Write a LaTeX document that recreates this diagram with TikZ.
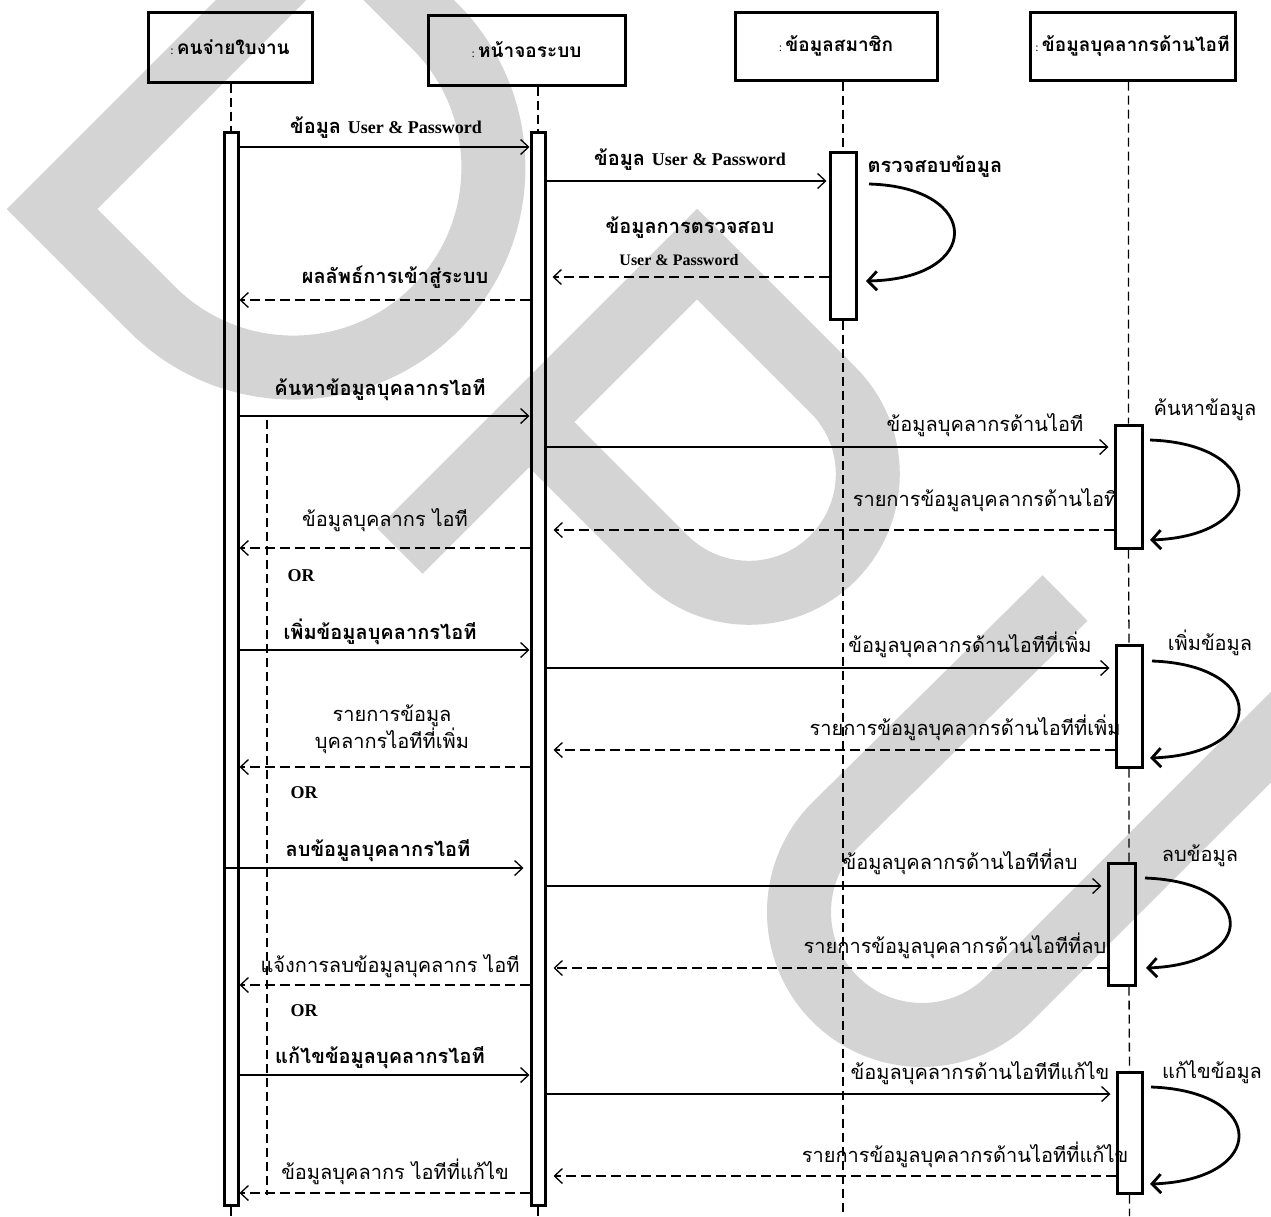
\documentclass[tikz,border=0pt]{standalone}
\usepackage{fontspec}
\setmainfont{Liberation Serif}
\newfontfamily\thai[Script=Thai]{Loma}
\usetikzlibrary{arrows.meta}
\definecolor{wmgray}{RGB}{212,212,212}

\begin{document}
\begin{tikzpicture}[x=1pt,y=-1pt,
  wmark/.style={draw=wmgray,line width=64pt,line join=miter,line cap=butt},
  objbox/.style={draw,line width=3pt,inner sep=0pt,font=\thai\bfseries\fontsize{19}{22}\selectfont},
  actbar/.style={draw,line width=3pt,inner sep=0pt},
  life/.style={line width=1.3pt,dash pattern=on 9pt off 5pt},
  msg/.style={line width=1.3pt,-{Straight Barb[length=8pt,width=15pt,line width=1.3pt]}},
  ret/.style={msg,dash pattern=on 10pt off 5pt},
  selfcall/.style={line width=2.8pt,-{Straight Barb[length=9pt,width=19pt,line width=2.8pt]}},
  lbl/.style={inner sep=0pt,font=\thai\fontsize{20}{24}\selectfont},
  lblb/.style={inner sep=0pt,font=\thai\bfseries\fontsize{20}{24}\selectfont},
  ortxt/.style={inner sep=0pt,font=\bfseries\fontsize{18}{20}\selectfont},
  latin/.style={inner sep=0pt,font=\bfseries\fontsize{16}{18}\selectfont}
]
\path[use as bounding box] (0,0) rectangle (1271,1216);

% watermark letters behind the diagram
\begin{scope}
  \clip (0,0) rectangle (1271,1216);
  % D
  \draw[wmark] (334.8,-73.8) -- (52,209) -- (152,309)
     arc[start angle=135,end angle=-45,radius=200] -- cycle;
  % P
  \draw[wmark] (400,551) -- (697,254) -- (833,390)
     arc[start angle=-45,end angle=135,radius=118.8] -- (529,422);
  % U
  \draw[wmark] (1065,598) -- (835,825)
     arc[start angle=225,end angle=45,radius=123] -- (1330,678);
\end{scope}

% objects
\node[objbox,minimum width=164pt,minimum height=70pt] (box1) at (230,47) {{\normalfont\fontsize{12}{12}\selectfont:}\,คนจ่ายใบงาน};
\node[objbox,minimum width=197pt,minimum height=70pt] (box2) at (526.5,50) {{\normalfont\fontsize{12}{12}\selectfont:}\,หน้าจอระบบ};
\node[objbox,minimum width=202pt,minimum height=68pt] (box3) at (836,46) {{\normalfont\fontsize{12}{12}\selectfont:}\,ข้อมูลสมาชิก};
\node[objbox,minimum width=205pt,minimum height=68pt] (box4) at (1132.5,46) {{\normalfont\fontsize{12}{12}\selectfont:}\,ข้อมูลบุคลากรด้านไอที};

% activation bars
\node[actbar,minimum width=14pt,minimum height=1073pt] (a1) at (231,668.5) {};
\node[actbar,minimum width=14pt,minimum height=1073pt] (a2) at (538,668.5) {};
\node[actbar,minimum width=26pt,minimum height=167pt] (a3) at (843,235.5) {};
\node[actbar,minimum width=27pt,minimum height=123pt] (a4) at (1128.5,486.5) {};
\node[actbar,minimum width=26pt,minimum height=122pt] (a5) at (1129,706) {};
\node[actbar,minimum width=27pt,minimum height=122pt] (a6) at (1121.5,924) {};
\node[actbar,minimum width=25pt,minimum height=121pt] (a7) at (1129.5,1132.5) {};

% lifelines
\coordinate (bot) at (0,1216);
\draw[life] (box1.south -| a1.north) -- (a1.north) (a1.south) -- (a1.south |- bot);
\draw[life] (box2.south -| a2.north) -- (a2.north) (a2.south) -- (a2.south |- bot);
\draw[life] (box3.south -| a3.north) -- (a3.north) (a3.south) -- (a3.south |- bot);
\draw[life] (box4.south -| a4.north) -- (a4.north) (a4.south) -- (a5.north)
  (a5.south) -- (a6.north -| a5.south) (a6.south -| a5.south) -- (a7.north)
  (a7.south) -- (a7.south |- bot);
% alternative fragment guide
\coordinate (alt1) at (267,420);
\coordinate (alt2) at (267,1195);
\draw[life] (alt1) -- (alt2);

% message rows
\foreach \n/\y in {m1/147,m2/181,m4/277,m5/300,m6/416,m7/447,m9/530,m10/548,
  m11/650,m12/668,m14/750,m15/767,m16/868,m17/886,m19/968,m20/985,
  m21/1075,m22/1094,m24/1176,m25/1193}
  \coordinate (\n) at (0,\y);

% login
\draw[msg] (a1.east |- m1) -- (a2.west |- m1);
\draw[msg,shorten >=2pt] (a2.east |- m2) -- (a3.west |- m2);
\coordinate (s1a) at (869,184); \coordinate (s1b) at (866,281);
\draw[selfcall] (s1a) .. controls (983,187) and (983,279) .. (s1b);
\draw[ret,shorten >=6pt] (a3.west |- m4) -- (a2.east |- m4);
\draw[ret] (a2.west |- m5) -- (a1.east |- m5);

% search
\draw[msg] (a1.east |- m6) -- (a2.west |- m6);
\draw[msg,shorten >=5pt] (a2.east |- m7) -- (a4.west |- m7);
\coordinate (s2a) at (1150,440); \coordinate (s2b) at (1150,540);
\draw[selfcall] (s2a) .. controls (1268,444) and (1268,536) .. (s2b);
\draw[ret,shorten >=7pt] (a4.west |- m9) -- (a2.east |- m9);
\draw[ret] (a2.west |- m10) -- (a1.east |- m10);

% add
\draw[msg] (a1.east |- m11) -- (a2.west |- m11);
\draw[msg,shorten >=5pt] (a2.east |- m12) -- (a5.west |- m12);
\coordinate (s3a) at (1152,661); \coordinate (s3b) at (1150,758);
\draw[selfcall] (s3a) .. controls (1268,665) and (1268,754) .. (s3b);
\draw[ret,shorten >=7pt] (a5.west |- m14) -- (a2.east |- m14);
\draw[ret] (a2.west |- m15) -- (a1.east |- m15);

% delete
\draw[msg,shorten >=6pt] (a1.west |- m16) -- (a2.west |- m16);
\draw[msg,shorten >=5pt] (a2.east |- m17) -- (a6.west |- m17);
\coordinate (s4a) at (1145,878); \coordinate (s4b) at (1146,968);
\draw[selfcall] (s4a) .. controls (1258,882) and (1258,964) .. (s4b);
\draw[ret,shorten >=7pt] (a6.west |- m19) -- (a2.east |- m19);
\draw[ret] (a2.west |- m20) -- (a1.east |- m20);

% edit
\draw[msg] (a1.east |- m21) -- (a2.west |- m21);
\draw[msg,shorten >=5pt] (a2.east |- m22) -- (a7.west |- m22);
\coordinate (s5a) at (1151,1087); \coordinate (s5b) at (1150,1184);
\draw[selfcall] (s5a) .. controls (1268,1091) and (1268,1180) .. (s5b);
\draw[ret,shorten >=7pt] (a7.west |- m24) -- (a2.east |- m24);
\draw[ret] (a2.west |- m25) -- (a1.east |- m25);

% labels
\node[lblb] (t1) at (386,128) {ข้อมูล {\normalfont\bfseries\fontsize{18}{20}\selectfont User \& Password}};
\node[lblb] (t2) at (690,160) {ข้อมูล {\normalfont\bfseries\fontsize{18}{20}\selectfont User \& Password}};
\node[lblb] (t3) at (935,167) {ตรวจสอบข้อมูล};
\node[lblb] (t4a) at (690,228) {ข้อมูลการตรวจสอบ};
\node[latin] (t4b) at (679,260) {User \& Password};
\node[lblb] (t5) at (395,277) {ผลลัพธ์การเข้าสู่ระบบ};

\node[lblb] (t6) at (380,390) {ค้นหาข้อมูลบุคลากรไอที};
\node[lbl] (t7) at (985,425) {ข้อมูลบุคลากรด้านไอที};
\node[lbl] (t8) at (1205,410) {ค้นหาข้อมูล};
\node[lbl] (t9) at (985,500) {รายการข้อมูลบุคลากรด้านไอที};
\node[lbl] (t10) at (385,520) {ข้อมูลบุคลากร ไอที};
\node[ortxt] (or1) at (301,576) {OR};

\node[lblb] (t11) at (380,632) {เพิ่มข้อมูลบุคลากรไอที};
\node[lbl] (t12) at (970,645) {ข้อมูลบุคลากรด้านไอทีที่เพิ่ม};
\node[lbl] (t13) at (1210,643) {เพิ่มข้อมูล};
\node[lbl] (t14) at (965,728) {รายการข้อมูลบุคลากรด้านไอทีที่เพิ่ม};
\node[lbl,align=center] (t15) at (392,729) {รายการข้อมูล\\บุคลากรไอทีที่เพิ่ม};
\node[ortxt] (or2) at (304,793) {OR};

\node[lblb] (t16) at (378,851) {ลบข้อมูลบุคลากรไอที};
\node[lbl] (t17) at (960,862) {ข้อมูลบุคลากรด้านไอทีที่ลบ};
\node[lbl] (t18) at (1200,856) {ลบข้อมูล};
\node[lbl] (t19) at (955,946) {รายการข้อมูลบุคลากรด้านไอทีที่ลบ};
\node[lbl] (t20) at (390,966) {แจ้งการลบข้อมูลบุคลากร ไอที};
\node[ortxt] (or3) at (304,1011) {OR};

\node[lblb] (t21) at (380,1058) {แก้ไขข้อมูลบุคลากรไอที};
\node[lbl] (t22) at (980,1073) {ข้อมูลบุคลากรด้านไอทีทีแก้ไข};
\node[lbl] (t23) at (1212,1072) {แก้ไขข้อมูล};
\node[lbl] (t24) at (965,1155) {รายการข้อมูลบุคลากรด้านไอทีที่แก้ไข};
\node[lbl] (t25) at (395,1172) {ข้อมูลบุคลากร ไอทีที่แก้ไข};
\end{tikzpicture}
\end{document}
